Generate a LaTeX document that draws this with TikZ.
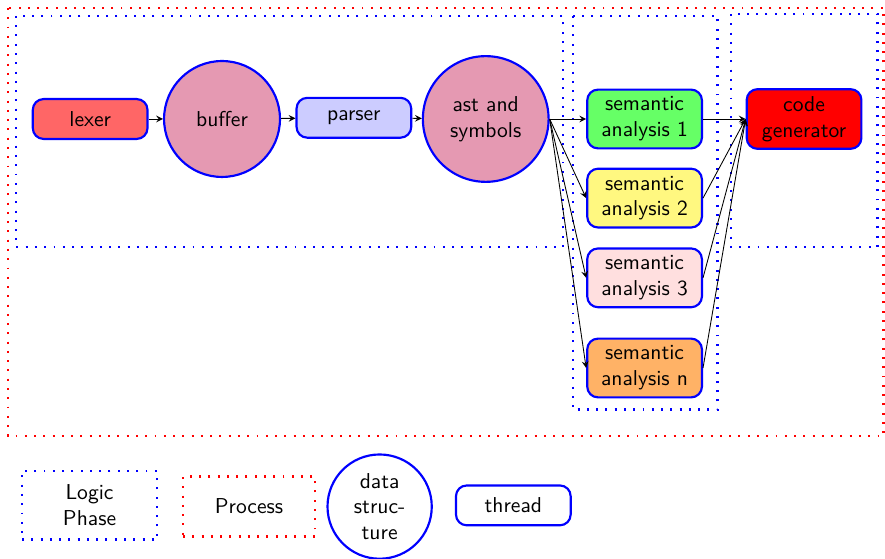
\documentclass[tikz,border=0pt]{standalone}
\usepackage{tikz}
\usetikzlibrary{arrows}

\tikzset{
  thread/.style = {draw = blue, line width = 1pt, rounded corners = 5pt, align = center,
                   minimum width = 1.87cm, minimum height = 0.65cm, font = \sffamily},
  datastruct/.style = {circle, draw = blue, line width = 1pt, align = center, inner sep = 0pt,
                       fill = purple!40, font = \sffamily},
  phase/.style = {draw = blue, line width = 1.2pt, dash pattern = on 0.9pt off 3.4pt},
  process/.style = {draw = red, line width = 1.2pt, dash pattern = on 0.9pt off 3.4pt},
  flow/.style = {-stealth}
}

\begin{document}
\begin{tikzpicture}
\useasboundingbox (0,0) rectangle (14.43,-9.11);
% process and logic phases
\draw[process] (0.13,-0.13) rectangle (14.41,-7.11);
\draw[phase] (0.26,-0.26) rectangle (9.18,-4.03);
\draw[phase] (9.34,-0.26) rectangle (11.70,-6.68);
\draw[phase] (11.92,-0.23) rectangle (14.31,-4.03);

\node[thread, fill = red!60] (lexer) at (1.47,-1.94) {lexer};
\node[datastruct, minimum size = 1.89cm] (buffer) at (3.62,-1.94) {buffer};
\node[thread, fill = blue!20] (parser) at (5.77,-1.92) {parser};
\node[datastruct, minimum size = 2.05cm] (ast) at (7.92,-1.94) {ast and\\symbols};
\node[thread, minimum height = 0.91cm, fill = green!60] (sem1) at (10.51,-1.94) {semantic\\analysis 1};
\node[thread, minimum height = 0.91cm, fill = yellow!50] (sem2) at (10.51,-3.23) {semantic\\analysis 2};
\node[thread, minimum height = 0.91cm, fill = pink!50] (sem3) at (10.51,-4.53) {semantic\\analysis 3};
\node[thread, minimum height = 0.91cm, fill = orange!60] (semn) at (10.51,-6.00) {semantic\\analysis n};
\node[thread, minimum height = 0.94cm, fill = red] (codegen) at (13.11,-1.94) {code\\generator};

\draw[flow] (lexer) -- (buffer);
\draw[flow] (buffer) -- (parser);
\draw[flow] (parser) -- (ast);
\foreach \s in {sem1, sem2, sem3, semn} {
  \draw[flow] (ast.east) -- (\s.west);
  \draw[flow] (\s.east) -- (codegen.west);
}

% legend
\node[phase, minimum width = 2.20cm, minimum height = 1.12cm, align = center,
      font = \sffamily] (legphase) at (1.46,-8.24) {Logic\\Phase};
\node[process, minimum width = 2.15cm, minimum height = 0.98cm,
      font = \sffamily] (legprocess) at (4.06,-8.26) {Process};
\node[datastruct, fill = none, minimum size = 1.70cm] (legdata) at (6.19,-8.26) {data\\struc-\\ture};
\node[thread] (legthread) at (8.37,-8.24) {thread};
\end{tikzpicture}
\end{document}
